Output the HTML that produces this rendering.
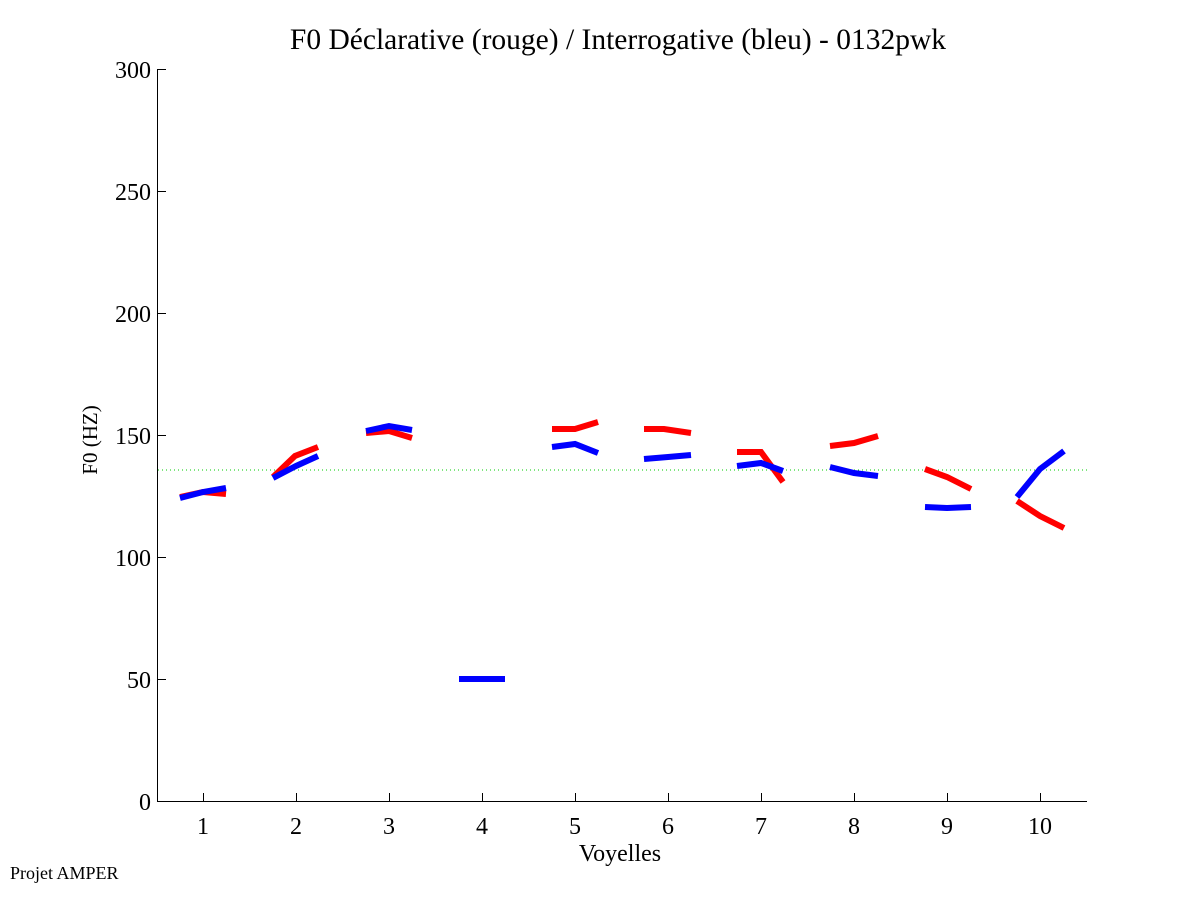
<!DOCTYPE html>
<html><head><meta charset="utf-8"><style>body{margin:0;background:#fff}</style></head><body>
<svg width="1201" height="901" xmlns="http://www.w3.org/2000/svg" font-family="Liberation Serif, serif">
<rect width="1201" height="901" fill="#fff"/>
<text x="618" y="49" font-size="29.5" text-anchor="middle">F0 Déclarative (rouge) / Interrogative (bleu) - 0132pwk</text>
<g stroke="#000" stroke-width="1" fill="none">
<line x1="157.5" y1="69" x2="157.5" y2="802"/>
<line x1="157" y1="801.5" x2="1087" y2="801.5"/>
<line x1="157" y1="69.5" x2="166" y2="69.5"/>
<line x1="157" y1="191.5" x2="166" y2="191.5"/>
<line x1="157" y1="313.5" x2="166" y2="313.5"/>
<line x1="157" y1="435.5" x2="166" y2="435.5"/>
<line x1="157" y1="557.5" x2="166" y2="557.5"/>
<line x1="157" y1="679.5" x2="166" y2="679.5"/>
<line x1="203.5" y1="802" x2="203.5" y2="793"/><line x1="296.5" y1="802" x2="296.5" y2="793"/>
<line x1="389.5" y1="802" x2="389.5" y2="793"/><line x1="482.5" y1="802" x2="482.5" y2="793"/>
<line x1="575.5" y1="802" x2="575.5" y2="793"/><line x1="668.5" y1="802" x2="668.5" y2="793"/>
<line x1="761.5" y1="802" x2="761.5" y2="793"/><line x1="854.5" y1="802" x2="854.5" y2="793"/>
<line x1="947.5" y1="802" x2="947.5" y2="793"/><line x1="1040.5" y1="802" x2="1040.5" y2="793"/>
</g>
<g font-size="24" text-anchor="end">
<text x="151" y="810">0</text><text x="151" y="688">50</text><text x="151" y="566">100</text>
<text x="151" y="444">150</text><text x="151" y="322">200</text><text x="151" y="200">250</text><text x="151" y="78">300</text>
</g>
<g font-size="24" text-anchor="middle">
<text x="203" y="834">1</text><text x="296" y="834">2</text><text x="389" y="834">3</text><text x="482" y="834">4</text>
<text x="575" y="834">5</text><text x="668" y="834">6</text><text x="761" y="834">7</text><text x="854" y="834">8</text>
<text x="947" y="834">9</text><text x="1040" y="834">10</text>
<text x="620" y="861">Voyelles</text>
</g>
<text x="0" y="0" font-size="21" text-anchor="middle" transform="translate(97,440) rotate(-90)">F0 (HZ)</text>
<text x="10" y="879" font-size="18">Projet AMPER</text>
<line x1="158" y1="470" x2="1087" y2="470" stroke="#00cc00" stroke-width="1" stroke-dasharray="1,3"/>
<g fill="none" stroke-width="6" stroke="#ff0000">
<polyline points="180,497 203,492 226,494"/>
<polyline points="273,477 295,456 318,447"/>
<polyline points="366,433 389,431 412,438"/>
<polyline points="552,429 575,429 598,422"/>
<polyline points="644,429 664,429 691,433"/>
<polyline points="737,452 761,452 783,482"/>
<polyline points="830,446 854,443 878,436"/>
<polyline points="925,469 947,477 971,489"/>
<polyline points="1017,501 1040,516 1064,528"/>
</g>
<g fill="none" stroke-width="6" stroke="#0000ff">
<polyline points="180,498 203,492 226,488"/>
<polyline points="273,478 296,466 318,456"/>
<polyline points="366,431 389,426 412,430"/>
<polyline points="459,679 505,679"/>
<polyline points="552,447 575,444 598,453"/>
<polyline points="644,459 668,457 691,455"/>
<polyline points="737,466 761,463 783,471"/>
<polyline points="830,467 854,473 878,476"/>
<polyline points="925,507 947,508 971,507"/>
<polyline points="1017,497 1040,469 1064,451"/>
</g>
</svg>
</body></html>
